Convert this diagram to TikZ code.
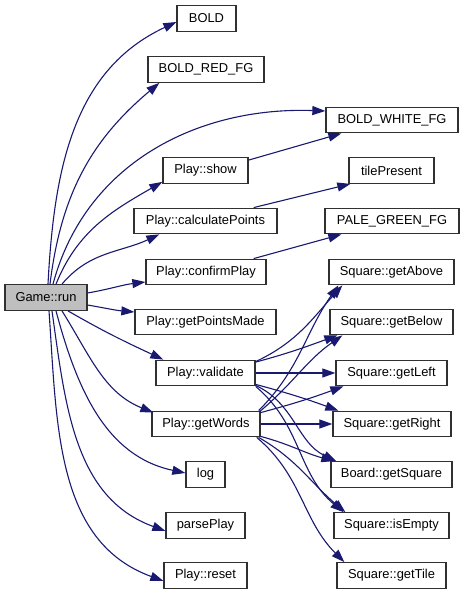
\documentclass[tikz,border=0pt]{standalone}
\usepackage{fontspec}
\setmainfont{Liberation Sans}
\usetikzlibrary{arrows.meta}
\definecolor{edgeblue}{HTML}{191970}
\definecolor{boxline}{HTML}{303030}
\begin{document}
\begin{tikzpicture}[x=1pt,y=1pt,
  box/.style={draw=boxline, line width=1.3pt, fill=white, minimum height=25.5pt, inner sep=0pt, font=\fontsize{12.9}{15}\selectfont},
  call/.style={draw=edgeblue, line width=1.1pt, -{Triangle[length=13pt,width=9pt]}}]
\useasboundingbox (0,0) rectangle (464,595);
% nodes
\node[box, fill=black!25, minimum width=82pt] (gr) at (46,297.5) {Game::run};
\node[box, minimum width=59pt] (bold) at (206.5,576.5) {BOLD};
\node[box, minimum width=116pt] (brf) at (206,525.5) {BOLD\_RED\_FG};
\node[box, minimum width=132pt] (bwf) at (392,475) {BOLD\_WHITE\_FG};
\node[box, minimum width=85pt] (show) at (205.5,424.5) {Play::show};
\node[box, minimum width=85pt] (tp) at (391.5,424.5) {tilePresent};
\node[box, minimum width=143pt] (calc) at (205.5,374) {Play::calculatePoints};
\node[box, minimum width=134pt] (pg) at (392,374) {PALE\_GREEN\_FG};
\node[box, minimum width=120pt] (conf) at (206,323) {Play::confirmPlay};
\node[box, minimum width=125pt] (above) at (391.5,323) {Square::getAbove};
\node[box, minimum width=141pt] (gpm) at (205.5,273) {Play::getPointsMade};
\node[box, minimum width=123pt] (below) at (391.5,273) {Square::getBelow};
\node[box, minimum width=99pt] (val) at (205.5,222) {Play::validate};
\node[box, minimum width=111pt] (left) at (391.5,222) {Square::getLeft};
\node[box, minimum width=108pt] (words) at (206,171) {Play::getWords};
\node[box, minimum width=118pt] (right) at (392,171) {Square::getRight};
\node[box, minimum width=39pt] (log) at (205.5,120.5) {log};
\node[box, minimum width=121pt] (sq) at (391.5,120.5) {Board::getSquare};
\node[box, minimum width=79pt] (pp) at (205.5,69.5) {parsePlay};
\node[box, minimum width=115pt] (empty) at (391.5,69.5) {Square::isEmpty};
\node[box, minimum width=83pt] (reset) at (205.5,19.5) {Play::reset};
\node[box, minimum width=109pt] (tile) at (391.5,19.5) {Square::getTile};
% Game::run calls
\draw[call] ([xshift=2pt]gr.north) to[out=87,in=205] ([yshift=-3.5pt]bold.west);
\draw[call] ([xshift=4pt]gr.north) to[out=83,in=220] ([xshift=12pt]brf.south west);
\draw[call] ([xshift=7pt]gr.north) to[out=75,in=178] ([yshift=9pt]bwf.west);
\draw[call] ([xshift=10pt]gr.north) to[out=68,in=210] ([yshift=2pt]show.south west);
\draw[call] ([xshift=16pt]gr.north) to[out=50,in=205] ([xshift=26pt]calc.south west);
\draw[call] ([yshift=4.5pt]gr.east) to[out=10,in=187] ([yshift=-10pt]conf.west);
\draw[call] ([yshift=-7.5pt]gr.east) to[out=-10,in=175] ([yshift=10pt]gpm.west);
\draw[call] ([xshift=22pt]gr.south) to[out=-30,in=155] ([xshift=8pt]val.north west);
\draw[call] ([xshift=16pt]gr.south) to[out=-58,in=158] ([xshift=2pt,yshift=-2pt]words.north west);
\draw[call] ([xshift=10pt]gr.south) to[out=-75,in=168] ([yshift=1.5pt]log.west);
\draw[call] ([xshift=6pt]gr.south) to[out=-82,in=160] ([yshift=8pt]pp.south west);
\draw[call] ([xshift=3pt]gr.south) to[out=-86,in=160] ([yshift=8pt]reset.south west);
% second level
\draw[call] ([yshift=-3pt]show.north east) -- ([xshift=16pt]bwf.south west);
\draw[call] ([xshift=-24pt]calc.north east) -- ([xshift=2pt]tp.south west);
\draw[call] ([xshift=-13pt]conf.north east) -- ([xshift=17pt]pg.south west);
% validate
\draw[call] ([yshift=-2pt]val.north east) to[out=25,in=228] ([xshift=14pt]above.south west);
\draw[call] ([yshift=-2.5pt]val.north east) to[out=15,in=200] ([xshift=8pt]below.south west);
\draw[call] (val.east) -- (left.west);
\draw[call] ([yshift=2pt]val.south east) to[out=-15,in=160] ([xshift=6pt]right.north west);
\draw[call] ([yshift=1pt]val.south east) to[out=-25,in=155] ([xshift=6pt]sq.north west);
\draw[call] (val.south east) to[out=-40,in=140] ([xshift=10pt]empty.north west);
% getWords
\draw[call] ([xshift=-2pt]words.north east) to[out=45,in=235] ([xshift=10pt]above.south west);
\draw[call] ([xshift=-1pt,yshift=-1pt]words.north east) to[out=40,in=215] ([xshift=13pt]below.south west);
\draw[call] ([yshift=-2pt]words.north east) to[out=15,in=200] ([xshift=8pt]left.south west);
\draw[call] (words.east) -- (right.west);
\draw[call] ([yshift=1pt]words.south east) to[out=-15,in=165] ([xshift=4pt]sq.north west);
\draw[call] ([xshift=-2pt]words.south east) to[out=-30,in=140] ([xshift=12pt]empty.north west);
\draw[call] ([xshift=-4pt]words.south east) to[out=-40,in=135] ([xshift=8pt]tile.north west);
\end{tikzpicture}
\end{document}
